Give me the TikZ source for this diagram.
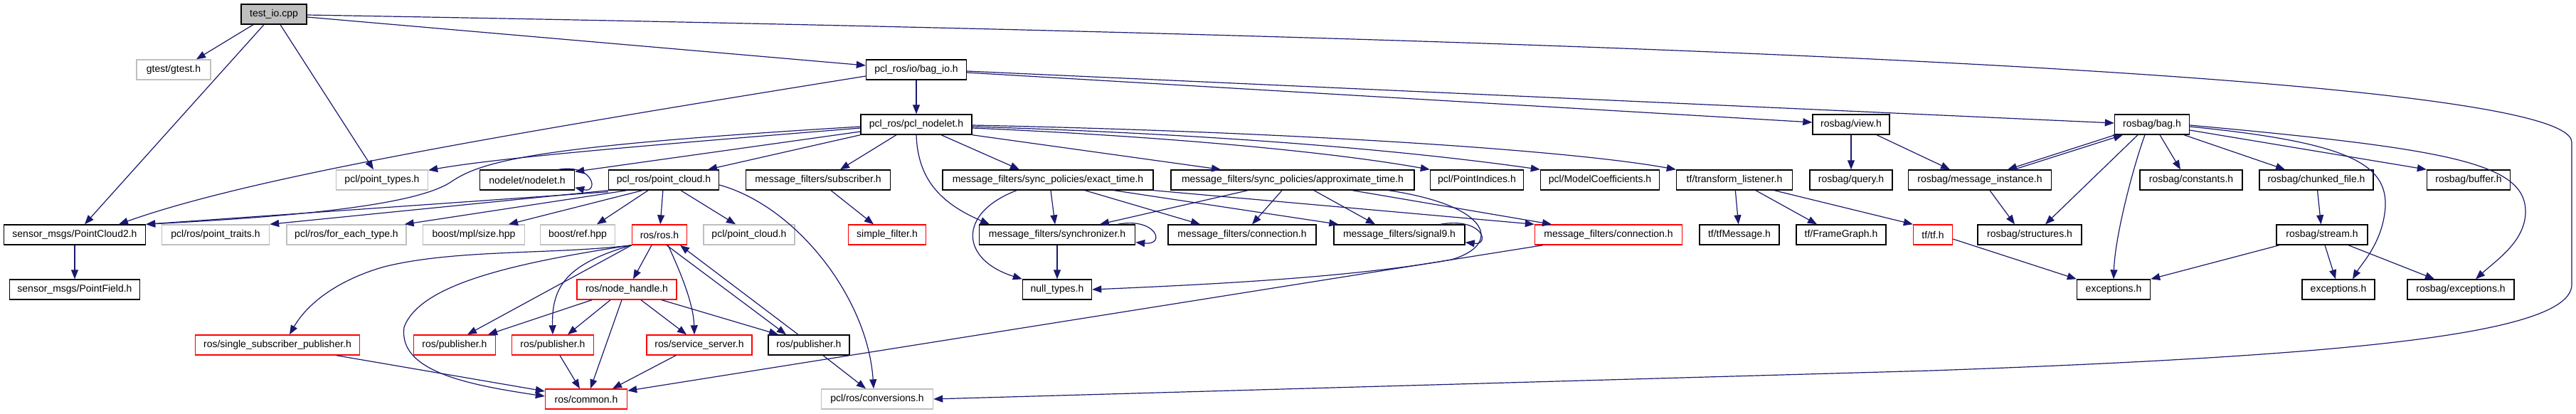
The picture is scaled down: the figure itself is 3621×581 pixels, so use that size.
\documentclass[tikz,border=0pt]{standalone}
\usepackage{fontspec}
\setmainfont{Liberation Sans}
\usepackage{tikz}
\usetikzlibrary{arrows.meta}
\definecolor{edgeblue}{HTML}{191970}
\definecolor{lightgrey}{HTML}{BFBFBF}
\definecolor{truncred}{HTML}{FF0000}

\begin{document}
\begin{tikzpicture}[x=1pt, y=-1pt, font={\fontsize{14}{16}\selectfont},
  box/.style={draw, line width=1.4pt, minimum height=28pt, inner sep=2pt, fill=white},
  doc/.style={box, draw=black},
  undoc/.style={box, draw=lightgrey},
  trunc/.style={box, draw=truncred},
  inc/.style={draw=edgeblue, line width=1.2pt, -{Triangle[length=13pt, width=10pt]}}]
  \useasboundingbox (0,0) rectangle (3621,581);

  % Files
  \node[doc, fill=lightgrey, minimum width=92] (io) at (385,20) {test\_io.cpp};

  \node[undoc, minimum width=104] (gtest) at (244,98) {gtest/gtest.h};
  \node[doc, minimum width=141] (bagio) at (1288,98) {pcl\_ros/io/bag\_io.h};

  \node[doc, minimum width=156] (pclnodelet) at (1288,175) {pcl\_ros/pcl\_nodelet.h};
  \node[doc, minimum width=108] (view) at (2602,175) {rosbag/view.h};
  \node[doc, minimum width=105] (bag) at (3025,175) {rosbag/bag.h};

  \node[undoc, minimum width=129] (pttypes) at (537,253) {pcl/point\_types.h};
  \node[doc, minimum width=133] (ndl) at (741,253) {nodelet/nodelet.h};
  \node[doc, minimum width=155] (pcpc) at (933,253) {pcl\_ros/point\_cloud.h};
  \node[doc, minimum width=203] (sub) at (1150,253) {message\_filters/subscriber.h};
  \node[doc, minimum width=296] (exact) at (1473,253) {message\_filters/sync\_policies/exact\_time.h};
  \node[doc, minimum width=342] (approx) at (1817,253) {message\_filters/sync\_policies/approximate\_time.h};
  \node[doc, minimum width=131] (pidx) at (2076,253) {pcl/PointIndices.h};
  \node[doc, minimum width=167] (mcoef) at (2249,253) {pcl/ModelCoefficients.h};
  \node[doc, minimum width=163] (tflis) at (2438,253) {tf/transform\_listener.h};
  \node[doc, minimum width=116] (query) at (2602,253) {rosbag/query.h};
  \node[doc, minimum width=201] (msginst) at (2783,253) {rosbag/message\_instance.h};
  \node[doc, minimum width=144] (consts) at (3080,253) {rosbag/constants.h};
  \node[doc, minimum width=160] (chunk) at (3256,253) {rosbag/chunked\_file.h};
  \node[doc, minimum width=117] (buffer) at (3470,253) {rosbag/buffer.h};

  \node[doc, minimum width=199] (pc2) at (105,330) {sensor\_msgs/PointCloud2.h};
  \node[undoc, minimum width=151] (ptraits) at (303,330) {pcl/ros/point\_traits.h};
  \node[undoc, minimum width=168] (foreach) at (487,330) {pcl/ros/for\_each\_type.h};
  \node[undoc, minimum width=143] (mplsize) at (666,330) {boost/mpl/size.hpp};
  \node[undoc, minimum width=105] (bref) at (812,330) {boost/ref.hpp};
  \node[trunc, minimum width=77] (ros) at (927,330) {ros/ros.h};
  \node[undoc, minimum width=128] (pclpc) at (1053,330) {pcl/point\_cloud.h};
  \node[trunc, minimum width=109] (simflt) at (1247,330) {simple\_filter.h};
  \node[doc, minimum width=219] (sync) at (1486,330) {message\_filters/synchronizer.h};
  \node[doc, minimum width=208] (conblk) at (1746,330) {message\_filters/connection.h};
  \node[doc, minimum width=184] (sig9) at (1967,330) {message\_filters/signal9.h};
  \node[trunc, minimum width=207] (conred) at (2261,330) {message\_filters/connection.h};
  \node[doc, minimum width=112] (tfmsg) at (2445,330) {tf/tfMessage.h};
  \node[doc, minimum width=126] (fgraph) at (2588,330) {tf/FrameGraph.h};
  \node[trunc, minimum width=55] (tftf) at (2717,330) {tf/tf.h};
  \node[doc, minimum width=146] (struct) at (2853,330) {rosbag/structures.h};
  \node[doc, minimum width=128] (stream) at (3264,330) {rosbag/stream.h};

  \node[doc, minimum width=183] (pfield) at (105,407) {sensor\_msgs/PointField.h};
  \node[trunc, minimum width=140] (nh) at (881,407) {ros/node\_handle.h};
  \node[doc, minimum width=97] (null) at (1486,407) {null\_types.h};
  \node[doc, minimum width=103] (exca) at (2971,407) {exceptions.h};
  \node[doc, minimum width=102] (excb) at (3287,407) {exceptions.h};
  \node[doc, minimum width=150] (rexc) at (3459,407) {rosbag/exceptions.h};

  \node[trunc, minimum width=231] (ssp) at (390,485) {ros/single\_subscriber\_publisher.h};
  \node[trunc, minimum width=115] (puba) at (639,485) {ros/publisher.h};
  \node[trunc, minimum width=115] (pubb) at (777,485) {ros/publisher.h};
  \node[trunc, minimum width=148] (srv) at (983,485) {ros/service\_server.h};
  \node[doc, minimum width=114] (pubc) at (1137,485) {ros/publisher.h};

  \node[trunc, minimum width=115] (common) at (824,561) {ros/common.h};
  \node[undoc, minimum width=157] (conv) at (1233,561) {pcl/ros/conversions.h};

  % Includes of test_io.cpp
  \draw[inc] ([xshift=-29]io.south) -- ([xshift=32]gtest.north);
  \draw[inc] ([xshift=-14]io.south) -- ([xshift=14]pc2.north);
  \draw[inc] ([xshift=9]io.south) -- ([xshift=-12]pttypes.north);
  \draw[inc] ([yshift=-4]io.east) -- ([yshift=6]bagio.west);
  \draw[inc] ([yshift=-1]io.east) .. controls (2100,50) and (3615,100) .. (3615,200) -- (3615,400)
    .. controls (3615,470) and (3300,500) .. (2715,521) -- (conv.east);

  % pcl_ros/io/bag_io.h
  \draw[inc] (bagio) -- (pclnodelet);
  \draw[inc] ([yshift=-9]bagio.west) .. controls (700,190) and (350,250) .. ([xshift=62]pc2.north);
  \draw[inc] ([yshift=-4]bagio.east) -- ([yshift=3]view.west);
  \draw[inc] ([yshift=-2]bagio.east) -- ([yshift=2]bag.west);

  % pcl_ros/pcl_nodelet.h
  \draw[inc] ([yshift=-3]pclnodelet.west) .. controls (760,205) and (680,225) .. (635,255)
    .. controls (585,290) and (400,305) .. (pc2.north east);
  \draw[inc] ([yshift=-5]pclnodelet.west) .. controls (900,205) and (700,222) .. ([yshift=-1]pttypes.north east);
  \draw[inc] ([yshift=-10]pclnodelet.west) -- ([yshift=-3]ndl.north east);
  \draw[inc] (pclnodelet.south west) -- ([xshift=62]pcpc.north);
  \draw[inc] ([xshift=-28]pclnodelet.south) -- ([xshift=31]sub.north);
  \draw[inc] (pclnodelet.south) .. controls (1290,250) and (1320,285) .. ([xshift=-95]sync.north);
  \draw[inc] ([xshift=35]pclnodelet.south) -- ([xshift=-40]exact.north);
  \draw[inc] (pclnodelet.south east) -- ([xshift=-101]approx.north);
  \draw[inc] ([yshift=-5]pclnodelet.east) .. controls (1600,190) and (1850,210) .. (pidx.north west);
  \draw[inc] ([yshift=-3]pclnodelet.east) .. controls (1750,190) and (2000,215) .. (mcoef.north west);
  \draw[inc] ([yshift=-1]pclnodelet.east) .. controls (1800,185) and (2200,210) .. (tflis.north west);

  % rosbag
  \draw[inc] (view) -- (query);
  \draw[inc] ([xshift=36]view.south) -- ([xshift=-42]msginst.north);
  \draw[inc] ([xshift=-52]bag.south) -- ([xshift=39]msginst.north);
  \draw[inc] ([xshift=48]msginst.north) -- ([xshift=-41]bag.south);
  \draw[inc] ([xshift=-20]bag.south) -- ([xshift=22]struct.north);
  \draw[inc] ([xshift=-10]bag.south) .. controls (3000,230) and (2973,330) .. (exca.north);
  \draw[inc] ([xshift=11]bag.south) -- ([xshift=-15]consts.north);
  \draw[inc] ([xshift=45]bag.south) -- ([xshift=-44]chunk.north);
  \draw[inc] ([yshift=-8]bag.east) -- (buffer.north west);
  \draw[inc] ([yshift=-3]bag.east) .. controls (3300,200) and (3355,230) .. (3353,290)
    .. controls (3350,340) and (3320,370) .. ([xshift=20]excb.north);
  \draw[inc] ([yshift=-1]bag.east) .. controls (3450,210) and (3552,230) .. (3550,300)
    .. controls (3548,340) and (3510,365) .. ([xshift=21]rexc.north);
  \draw[inc] ([xshift=14]msginst.south) -- ([xshift=-21]struct.north);
  \draw[inc] (chunk) -- (stream);
  \draw[inc] ([xshift=-60]stream.south) -- (exca.north east);
  \draw[inc] ([xshift=4]stream.south) -- ([xshift=-4]excb.north);
  \draw[inc] ([xshift=37]stream.south) -- ([xshift=-37]rexc.north);

  % tf
  \draw[inc] (tflis) -- (tfmsg);
  \draw[inc] ([xshift=30]tflis.south) -- ([xshift=-34]fgraph.north);
  \draw[inc] ([xshift=56]tflis.south) -- (tftf.north west);
  \draw[inc] ([yshift=-6]tftf.east) -- (exca.north west);

  % message_filters
  \draw[inc] ([xshift=4]exact.south) -- ([xshift=-3]sync.north);
  \draw[inc] ([xshift=-44]exact.south) .. controls (1345,300) and (1350,365) .. (null.north west);
  \draw[inc] ([xshift=52]exact.south) -- ([xshift=-59]conblk.north);
  \draw[inc] ([xshift=93]exact.south) -- ([xshift=7]sig9.north west);
  \draw[inc] (exact.south east) -- (conred.north west);
  \draw[inc] ([xshift=-63]approx.south) -- ([xshift=60]sync.north);
  \draw[inc] ([xshift=-15]approx.south) -- ([xshift=14]conblk.north);
  \draw[inc] ([xshift=30]approx.south) -- ([xshift=-34]sig9.north);
  \draw[inc] ([xshift=84]approx.south) -- ([xshift=-80]conred.north);
  \draw[inc] ([xshift=135]approx.south) .. controls (2100,290) and (2110,345) .. (2040,365)
    .. controls (1900,390) and (1700,400) .. (null.east);
  \draw[inc] (sync) -- (null);
  \draw[inc] ([xshift=-25]sync.north east) .. controls (1625,305) and (1640,345) .. ([yshift=4]sync.south east);
  \draw[inc] ([xshift=-35]sig9.north east) .. controls (2085,305) and (2095,345) .. ([yshift=4]sig9.south east);
  \draw[inc] ([xshift=-23]ndl.north east) .. controls (835,230) and (842,272) .. ([yshift=4]ndl.south east);
  \draw[inc] ([xshift=18]sub.south) -- ([xshift=-19]simflt.north);
  \draw[inc] ([xshift=12]conred.south west) -- ([yshift=-3]common.north east);

  % pcl_ros/point_cloud.h
  \draw[inc] ([yshift=-2]pcpc.south west) -- (pc2.north east);
  \draw[inc] (pcpc.south west) -- (ptraits.north east);
  \draw[inc] ([xshift=-52]pcpc.south) -- ([xshift=-3]foreach.north east);
  \draw[inc] ([xshift=-30]pcpc.south) -- ([xshift=49]mplsize.north);
  \draw[inc] ([xshift=-22]pcpc.south) -- ([xshift=27]bref.north);
  \draw[inc] (pcpc) -- (ros);
  \draw[inc] ([xshift=24]pcpc.south) -- ([xshift=-19]pclpc.north);
  \draw[inc] ([yshift=-7]pcpc.east) .. controls (1120,290) and (1220,420) .. ([xshift=-5]conv.north);

  % ros
  \draw[inc] ([xshift=-11]ros.south) -- ([xshift=9]nh.north);
  \draw[inc] (ros.south west) .. controls (780,358) and (640,350) .. (540,375)
    .. controls (470,395) and (430,430) .. ([xshift=17]ssp.north);
  \draw[inc] (ros.south west) -- ([xshift=18]puba.north);
  \draw[inc] (ros.south west) .. controls (800,370) and (775,400) .. (pubb.north);
  \draw[inc] (ros.south west) .. controls (720,370) and (590,400) .. (568,460)
    .. controls (560,520) and (650,540) .. ([yshift=4]common.west);
  \draw[inc] ([xshift=12]ros.south) .. controls (960,390) and (975,430) .. ([xshift=-7]srv.north);
  \draw[inc] ([xshift=10]ros.south) -- ([xshift=-32]pubc.north);
  \draw[inc] ([xshift=-15]pubc.north) -- ([xshift=29]ros.south);
  \draw[inc] ([xshift=-49]nh.south) -- ([xshift=47]puba.north);
  \draw[inc] ([xshift=-23]nh.south) -- ([xshift=21]pubb.north);
  \draw[inc] ([xshift=-7]nh.south) -- ([xshift=6]common.north);
  \draw[inc] ([xshift=20]nh.south) -- ([xshift=-18]srv.north);
  \draw[inc] ([xshift=49]nh.south) -- ([xshift=-43]pubc.north);
  \draw[inc] ([xshift=83]ssp.south) -- ([yshift=11]common.west);
  \draw[inc] ([xshift=10]pubb.south) -- ([xshift=-9]common.north);
  \draw[inc] ([xshift=-33]srv.south) -- ([xshift=37]common.north);
  \draw[inc] ([xshift=20]pubc.south) -- ([xshift=-16]conv.north);

  % sensor_msgs
  \draw[inc] (pc2) -- (pfield);
\end{tikzpicture}
\end{document}
